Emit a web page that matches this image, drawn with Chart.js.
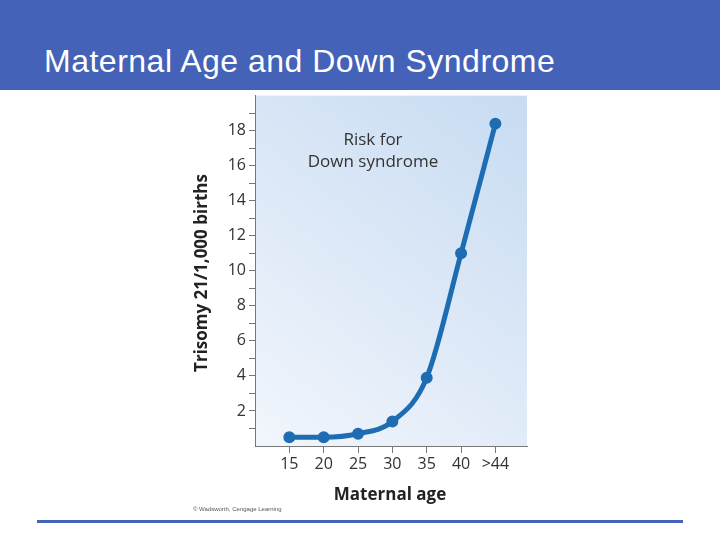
<!DOCTYPE html>
<html><head><meta charset="utf-8">
<script src="https://cdn.jsdelivr.net/npm/chart.js@4"></script>
<style>
body{margin:0;width:720px;height:540px;background:#fff;position:relative;overflow:hidden;font-family:"Liberation Sans",Arial,sans-serif}
#hdr{position:absolute;left:0;top:0;width:720px;height:90px;background:#4462b8}
#ttl{position:absolute;left:44px;top:43px;color:#fff;font-size:32px;letter-spacing:0.5px}
#wrap{position:absolute;left:190px;top:83px;width:346px;height:432px}
#rule{position:absolute;left:37px;top:520px;width:646px;height:3px;background:#4462b8}
#copy{position:absolute;left:193px;top:506px;font-size:6px;color:#555}
</style></head><body>
<div id="hdr"></div><div id="ttl">Maternal Age and Down Syndrome</div>
<div id="wrap"><canvas id="c"></canvas></div>
<div id="copy">© Wadsworth, Cengage Learning</div>
<div id="rule"></div>
<script>
const ages=[15,20,25,30,35,40,45];
const risk=[0.5,0.5,0.7,1.4,3.9,11,18.4];
const xLabels={15:'15',20:'20',25:'25',30:'30',35:'35',40:'40',45:'>44'};
const yLabels=[2,4,6,8,10,12,14,16,18];
const bg={id:'bg',beforeDraw(ch){const a=ch.chartArea,c=ch.ctx;const g=c.createLinearGradient(a.left,a.bottom,a.right,a.top);g.addColorStop(0,'#f2f6fc');g.addColorStop(1,'#c7dbf2');c.save();c.fillStyle=g;c.fillRect(a.left,a.top,a.right-a.left,a.bottom-a.top);c.restore();},
afterDraw(ch){const c=ch.ctx;c.save();c.fillStyle='#333';c.font='17px "Open Sans",sans-serif';c.textAlign='center';c.fillText('Risk for',183,62);c.fillText('Down syndrome',183,84);
c.fillStyle='#222';c.font='bold 17px "Open Sans",sans-serif';c.fillText('Maternal age',200,417);
c.translate(17,190);c.rotate(-Math.PI/2);c.fillText('Trisomy 21/1,000 births',0,0);c.restore();}};
new Chart(document.getElementById('c'),{type:'line',
data:{datasets:[{data:ages.map((x,i)=>({x,y:risk[i]})),borderColor:'#1e6cb2',backgroundColor:'#1e6cb2',borderWidth:5,pointRadius:3.5,cubicInterpolationMode:'monotone'}]},
options:{responsive:true,maintainAspectRatio:false,animation:false,layout:{padding:{right:2,top:0}},
plugins:{legend:{display:false},tooltip:{enabled:false}},
scales:{x:{type:'linear',min:10,max:49.6,afterFit(s){s.height=69},afterBuildTicks(s){s.ticks=ages.map(v=>({value:v}))},
ticks:{callback:v=>xLabels[v]||'',color:'#333',font:{size:16,family:'"Open Sans",sans-serif'},maxRotation:0,padding:2},
grid:{drawOnChartArea:false,tickLength:7,color:'#777'},border:{color:'#777'}},
y:{min:0,max:20,afterFit(s){s.width=65},afterBuildTicks(s){const t=[];for(let i=1;i<20;i++)t.push({value:i});s.ticks=t},
ticks:{autoSkip:false,callback:v=>yLabels.includes(v)?String(v):'',color:'#333',font:{size:16,family:'"Open Sans",sans-serif'},padding:3},
grid:{drawOnChartArea:false,tickLength:6,color:'#777'},border:{color:'#777'}}}},plugins:[bg]});
</script></body></html>
